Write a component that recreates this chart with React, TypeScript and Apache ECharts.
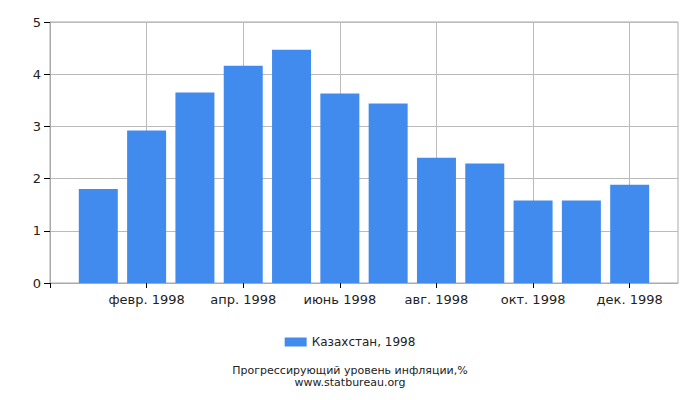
import { useEffect, useRef } from "react";
import * as echarts from "echarts";

// padded with an empty slot on each side so the axis runs from 0 to 13
const months = [
  "",
  "янв. 1998",
  "февр. 1998",
  "март 1998",
  "апр. 1998",
  "май 1998",
  "июнь 1998",
  "июль 1998",
  "авг. 1998",
  "сент. 1998",
  "окт. 1998",
  "нояб. 1998",
  "дек. 1998",
  "",
];
const inflation = [1.8, 2.92, 3.65, 4.16, 4.47, 3.63, 3.44, 2.4, 2.29, 1.58, 1.58, 1.88];
const seriesName = "Казахстан, 1998";
const titleText = "Прогрессирующий уровень инфляции,%";
const siteText = "www.statbureau.org";

const App = () => {
  const chartRef = useRef<HTMLDivElement>(null);

  useEffect(() => {
    if (!chartRef.current) return;
    document.body.style.margin = "0";
    const chart = echarts.init(chartRef.current, undefined, { renderer: "svg" });

    const font = "DejaVu Sans";
    const option = {
      animation: false,
      backgroundColor: "#ffffff",
      textStyle: { fontFamily: font },
      title: [
        {
          text: titleText,
          left: "center",
          top: 365,
          padding: 0,
          textStyle: { fontSize: 11, fontWeight: "normal", color: "#222", fontFamily: font },
        },
        {
          text: siteText,
          left: "center",
          top: 377,
          padding: 0,
          textStyle: { fontSize: 11, fontWeight: "normal", color: "#222", fontFamily: font },
        },
      ],
      legend: {
        top: 331,
        left: "center",
        icon: "rect",
        itemWidth: 22,
        itemHeight: 9,
        itemGap: 6,
        textStyle: { fontSize: 12, color: "#222", fontFamily: font },
        data: [seriesName],
      },
      grid: {
        left: 50,
        right: 22,
        top: 22,
        bottom: 117,
        show: true,
        borderColor: "#aaa",
        borderWidth: 1,
      },
      xAxis: {
        type: "category",
        data: months,
        boundaryGap: false,
        axisLine: { show: true, lineStyle: { color: "#aaa" } },
        axisTick: {
          show: true,
          length: 5,
          interval: (i: number) => i % 2 === 0 && i <= 12,
          lineStyle: { color: "#000" },
        },
        axisLabel: {
          interval: (i: number) => i % 2 === 0 && i >= 2 && i <= 12,
          fontSize: 13,
          color: "#222",
          margin: 10,
        },
        splitLine: {
          show: true,
          interval: (i: number) => i % 2 === 0 && i >= 2 && i <= 12,
          lineStyle: { color: "#bbb" },
        },
      },
      yAxis: {
        type: "value",
        min: 0,
        max: 5,
        interval: 1,
        axisLine: { show: true, lineStyle: { color: "#aaa" } },
        axisTick: { show: true, length: 6, lineStyle: { color: "#000" } },
        axisLabel: { fontSize: 13, color: "#222", margin: 9 },
        splitLine: { show: true, lineStyle: { color: "#bbb" } },
      },
      series: [
        {
          name: seriesName,
          type: "bar",
          barWidth: 39,
          itemStyle: { color: "#428bee" },
          data: ["-", ...inflation, "-"],
        },
      ],
    };

    chart.setOption(option);

    return () => {
      chart.dispose();
    };
  }, []);

  return <div ref={chartRef} style={{ width: "700px", height: "400px" }} />;
};

export default App;
